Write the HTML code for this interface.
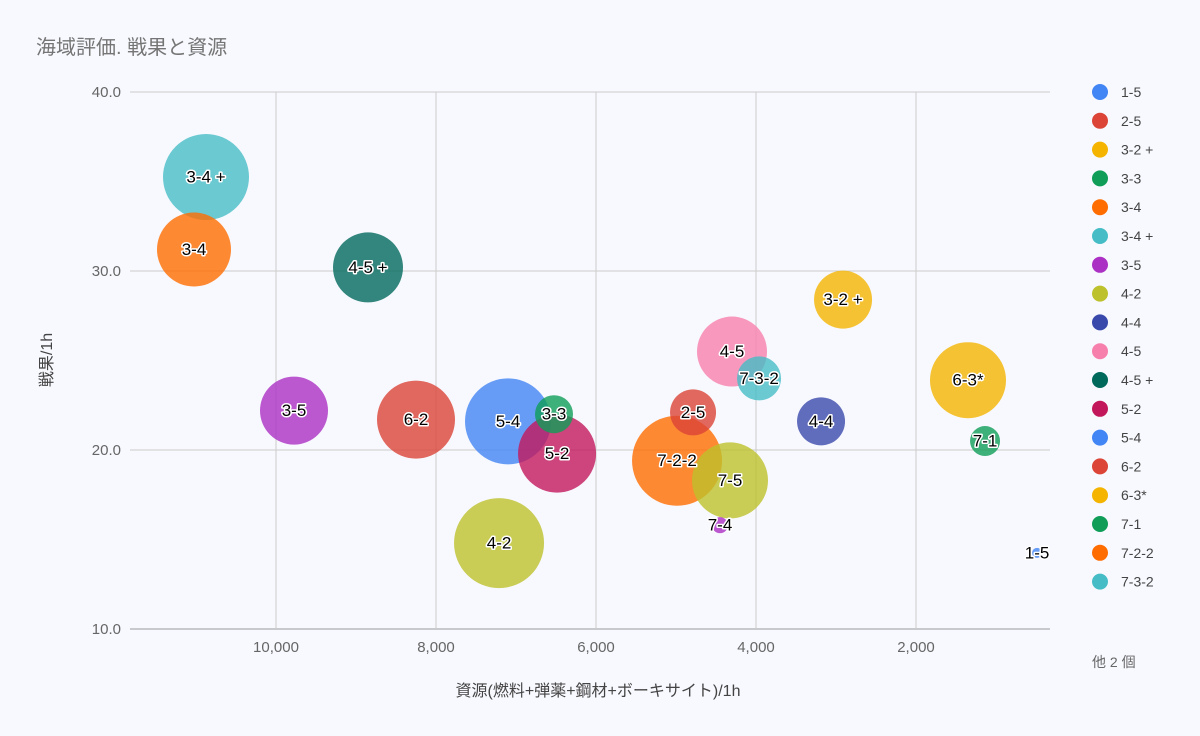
<!DOCTYPE html>
<html><head><meta charset="utf-8"><style>
html,body{margin:0;padding:0;background:#f8f9fe;}
svg{display:block;font-family:"Liberation Sans","Noto Sans CJK JP",sans-serif;}
.bl{font-size:17px;fill:#000;stroke:#fff;stroke-width:3px;paint-order:stroke;stroke-linejoin:round;text-anchor:middle;dominant-baseline:central;}
</style></head><body>
<svg id="chart" width="1200" height="736">
<rect width="1200" height="736" fill="#f8f9fe"/>
<text x="36" y="54" font-size="20" fill="#757575">海域評価. 戦果と資源</text>
<g id="grid"></g><g id="bubbles"></g><g id="legend"></g>
<text x="598" y="696" font-size="16" fill="#444" text-anchor="middle">資源(燃料+弾薬+鋼材+ボーキサイト)/1h</text>
<text transform="translate(52,360) rotate(-90)" font-size="16" fill="#444" text-anchor="middle">戦果/1h</text>
</svg>
<script>
const labels=["1-5","2-5","3-2 +","3-3","3-4","3-4 +","3-5","4-2","4-4","4-5","4-5 +","5-2","5-4","6-2","6-3*","7-1","7-2-2","7-3-2","7-4","7-5"];
const resources=[487,4787,2912,6525,11025,10875,9775,7212,3187,4300,8850,6487,7100,8250,1350,1137,4987,3962,4450,4325];
const results=[14.25,22.1,28.4,22.0,31.2,35.25,22.2,14.8,21.6,25.5,30.2,19.8,21.6,21.7,23.9,20.5,19.4,24.0,15.8,18.3];
const sizes=[5,23,29,19,37,43,34,45,24,35,35,39,43,39,38,15,45,22,8,38];
const colors=["#4285f4","#db4437","#f4b400","#0f9d58","#ff6d00","#46bdc6","#ab30c4","#bdc12b","#3949ab","#f77fac","#00695c","#c2185b","#4285f4","#db4437","#f4b400","#0f9d58","#ff6d00","#46bdc6","#ab30c4","#bdc12b"];
const xTicks=[10000,8000,6000,4000,2000];
const yTicks=[10,20,30,40];
const NS="http://www.w3.org/2000/svg";
const X=v=>1076-v*0.08, Y=v=>92+(40-v)*17.9, R=s=>s;
function mk(t,a,p){const e=document.createElementNS(NS,t);for(const k in a)e.setAttribute(k,a[k]);p.appendChild(e);return e;}
const g=document.getElementById('grid');
yTicks.forEach(t=>{
 const l=mk('line',{x1:130,x2:1050,y1:Y(t),y2:Y(t),stroke:t==10?'#999':'#ccc','stroke-width':1},g);
 
 
 const tx=mk('text',{x:121,y:Y(t)+5,'font-size':15,fill:'#666','text-anchor':'end'},g);tx.textContent=t.toFixed(1);
 
 
});
xTicks.forEach(t=>{
 const l=mk('line',{x1:X(t),x2:X(t),y1:92,y2:629,stroke:'#ccc','stroke-width':1},g);
 
 
 const tx=mk('text',{x:X(t),y:652,'font-size':15,fill:'#666','text-anchor':'middle'},g);tx.textContent=t.toLocaleString('en-US');
 
 
});
const b=document.getElementById('bubbles');
const order=labels.map((_,i)=>i).sort((a,c)=>sizes[c]-sizes[a]);
order.forEach(i=>{
 const c=mk('circle',{cx:X(resources[i]),cy:Y(results[i]),r:R(sizes[i]),fill:colors[i],'fill-opacity':0.8},b);
 
 
});
order.forEach(i=>{
 const t=mk('text',{x:X(resources[i]),y:Y(results[i]),class:'bl'},b);t.textContent=labels[i];
 
 
});
const lg=document.getElementById('legend');
for(let i=0;i<18;i++){
 const y=92+i*28.8;
 const c=mk('circle',{cx:1100,cy:y,r:8,fill:colors[i]},lg);
 
 
 const t=mk('text',{x:1121,y:y+5,'font-size':14,fill:'#444'},lg);t.textContent=labels[i];
 
 
}
const m=mk('text',{x:1092,y:667,'font-size':14,fill:'#666'},lg);m.textContent='他 2 個';


</script>
</body></html>
